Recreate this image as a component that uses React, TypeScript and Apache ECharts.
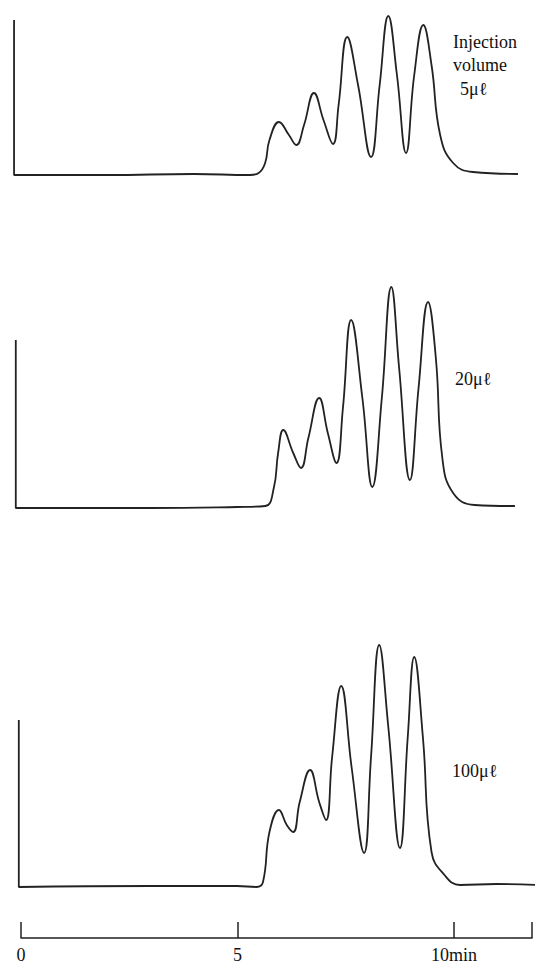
import React, { useEffect, useRef } from 'react';
import * as echarts from 'echarts';

// chromatograms: [time (min), detector signal]
const trace5: [number, number][] = [
  [-0.16, 155], [-0.16, 0], [2, 0], [4, 1], [5.3, 0], [5.5, 2], [5.65, 12], [5.75, 35], [5.97, 53],
  [6.2, 40], [6.37, 30], [6.55, 50], [6.78, 82], [7.0, 55], [7.22, 31], [7.35, 70], [7.55, 138],
  [7.8, 90], [8.1, 18], [8.3, 90], [8.5, 159], [8.7, 100], [8.91, 22], [9.1, 100], [9.31, 150],
  [9.5, 110], [9.7, 40], [10.0, 12], [10.46, 3], [11.5, 1],
];
const trace20: [number, number][] = [
  [-0.12, 168], [-0.12, 0], [3, 0], [5, 1], [5.65, 2], [5.85, 20], [5.95, 55], [6.07, 78], [6.3, 55],
  [6.48, 40], [6.65, 70], [6.9, 110], [7.1, 75], [7.3, 45], [7.45, 100], [7.64, 188], [7.9, 110],
  [8.13, 21], [8.35, 110], [8.57, 221], [8.75, 140], [9.0, 28], [9.2, 120], [9.42, 206], [9.6, 150],
  [9.75, 50], [10.0, 15], [10.5, 3], [11.43, 2],
];
const trace100: [number, number][] = [
  [-0.05, 167], [-0.05, 0], [3, 1], [5, 1], [5.45, 0], [5.6, 5], [5.75, 55], [5.97, 77], [6.15, 62],
  [6.3, 55], [6.45, 85], [6.69, 117], [6.9, 85], [7.06, 67], [7.2, 130], [7.41, 201], [7.65, 120],
  [7.94, 34], [8.1, 130], [8.29, 242], [8.5, 160], [8.77, 39], [8.95, 150], [9.1, 230], [9.3, 150],
  [9.5, 35], [9.8, 12], [10.16, 2], [11, 3], [12, 2],
];
const timeTicks = [0, 5, 10];

const serif = 'Liberation Serif';

const App: React.FC = () => {
  const ref = useRef<HTMLDivElement>(null);

  useEffect(() => {
    if (!ref.current) return;
    const chart = echarts.init(ref.current, null, { renderer: 'svg' });
    const grids = [
      { left: 8, right: 3, top: 5, height: 170 },
      { left: 8, right: 3, top: 278, height: 230 },
      { left: 8, right: 3, top: 637, height: 250 },
      { left: 21, right: 11, top: 900, height: 38 },
    ];
    const hidden = { show: false };
    const traceX = (i: number) => ({
      type: 'value', gridIndex: i, min: -0.3, max: 12.01,
      axisLine: hidden, axisTick: hidden, axisLabel: hidden, splitLine: hidden,
    });
    const traceY = (i: number, max: number) => ({
      type: 'value', gridIndex: i, min: 0, max,
      axisLine: hidden, axisTick: hidden, axisLabel: hidden, splitLine: hidden,
    });
    const line = (i: number, data: [number, number][]) => ({
      type: 'line', xAxisIndex: i, yAxisIndex: i, data, smooth: 0.45, showSymbol: false,
      lineStyle: { color: '#222', width: 1.8 },
    });
    const text = (x: number, y: number, t: string) => ({
      type: 'text', x, y,
      style: { text: t, fontFamily: serif, fontSize: 18, fill: '#111' },
    });
    chart.setOption({
      animation: false,
      grid: grids,
      xAxis: [
        traceX(0), traceX(1), traceX(2),
        {
          type: 'value', gridIndex: 3, min: 0, max: 11.8, interval: 5,
          axisLine: { lineStyle: { color: '#222', width: 1.5 } },
          axisTick: { inside: true, length: 16, lineStyle: { color: '#222', width: 1.5 } },
          axisLabel: {
            fontFamily: serif, fontSize: 18, color: '#111', margin: 8,
            formatter: (v: number) => (timeTicks.includes(v) ? (v === 10 ? '10min' : String(v)) : ''),
          },
          splitLine: hidden,
        },
      ],
      yAxis: [traceY(0, 170), traceY(1, 230), traceY(2, 250), traceY(3, 1)],
      series: [line(0, trace5), line(1, trace20), line(2, trace100)],
      graphic: [
        text(453, 33, 'Injection'),
        text(453, 56, 'volume'),
        text(460, 80, '5μℓ'),
        text(455, 370, '20μℓ'),
        text(452, 762, '100μℓ'),
      ],
    });
    return () => chart.dispose();
  }, []);

  return <div ref={ref} style={{ width: 543, height: 969, margin: -8 }} />;
};

export default App;
